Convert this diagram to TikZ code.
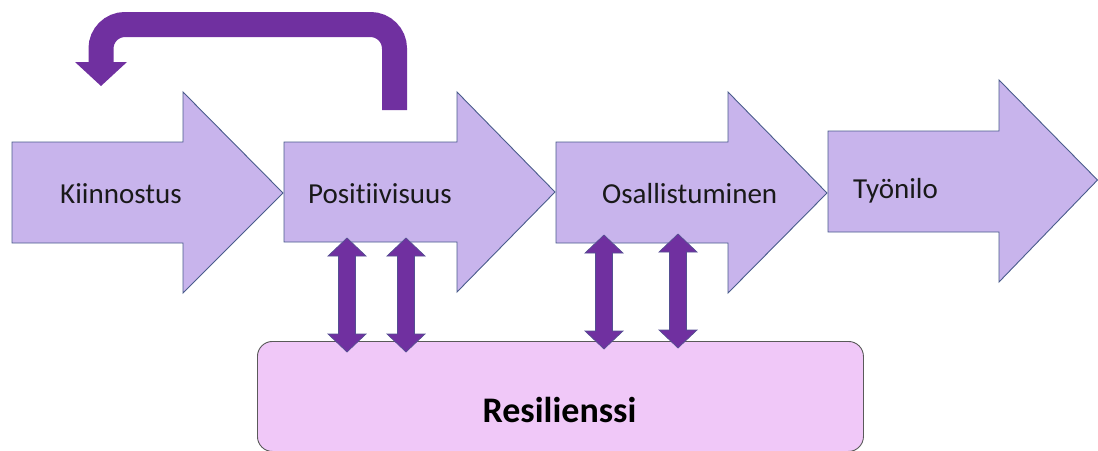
\documentclass[tikz,border=0pt]{standalone}
\usepackage{fontspec}
\setmainfont{Carlito}[RawFeature={-liga;-clig;-dlig}]
\definecolor{flowfill}{HTML}{C8B4EC}
\definecolor{flowline}{HTML}{4A5C8C}
\definecolor{boxfill}{HTML}{F0C8F8}
\definecolor{boxline}{HTML}{5A5A5A}
\definecolor{deep}{HTML}{7030A0}
\tikzset{
  flowarrow/.style={fill=flowfill, draw=flowline, line width=0.9pt, line join=miter},
  lbl/.style={anchor=base west, inner sep=0pt, font=\fontsize{29}{32}\selectfont, text=black!90},
  dbl/.style={fill=deep, draw=flowline!70!deep, line width=0.7pt},
}
\begin{document}
\begin{tikzpicture}[x=1pt,y=-1pt]
\useasboundingbox (0,0) rectangle (1098,450);
% big flow arrows
\draw[flowarrow] (12,142) -- (183,142) -- (183,92) -- (283,193) -- (183,293) -- (183,243) -- (12,243) -- cycle;
\draw[flowarrow] (284,142) -- (457,142) -- (457,92) -- (555,192) -- (457,292) -- (457,242) -- (284,242) -- cycle;
\draw[flowarrow] (556,142) -- (728,142) -- (728,92) -- (827,193) -- (728,293) -- (728,243) -- (556,243) -- cycle;
\draw[flowarrow] (828,131) -- (999,131) -- (999,80) -- (1097.5,180) -- (999,282) -- (999,232) -- (828,232) -- cycle;
\node[lbl] (kiin) at (60,203) {Kiinnostus};
\node[lbl] (posi) at (308,203) {Positiivisuus};
\node[lbl] (osal) at (602,203) {Osallistuminen};
\node[lbl] (tyon) at (853,198) {Työnilo};
% resilience box
\node[draw=boxline, fill=boxfill, line width=0.9pt, rounded corners=15pt, minimum width=606pt, minimum height=110pt, anchor=north west, inner sep=0pt] (resi) at (257,341) {};
\node[anchor=base, inner sep=0pt, font=\fontsize{36}{40}\selectfont\bfseries] (resitxt) at (559.5,422) {Resilienssi};
% U-turn arrow
\coordinate (ustart) at (394.5,110);
\coordinate (uend) at (101,62);
\draw[deep, line width=25pt, rounded corners=24pt] (ustart) -- (394.5,24.5) -- (101,24.5) -- (uend);
\fill[deep] (75,62) -- (127,62) -- (101,86) -- cycle;
% double arrows
\foreach \c/\t/\b in {347/238/352, 406/238/352, 604/235/349, 678/234/348} {
  \draw[dbl] (\c,\t) -- (\c+19,\t+18) -- (\c+8.5,\t+18) -- (\c+8.5,\b-18) -- (\c+19,\b-18) -- (\c,\b) -- (\c-19,\b-18) -- (\c-8.5,\b-18) -- (\c-8.5,\t+18) -- (\c-19,\t+18) -- cycle;
}
\end{tikzpicture}
\end{document}
